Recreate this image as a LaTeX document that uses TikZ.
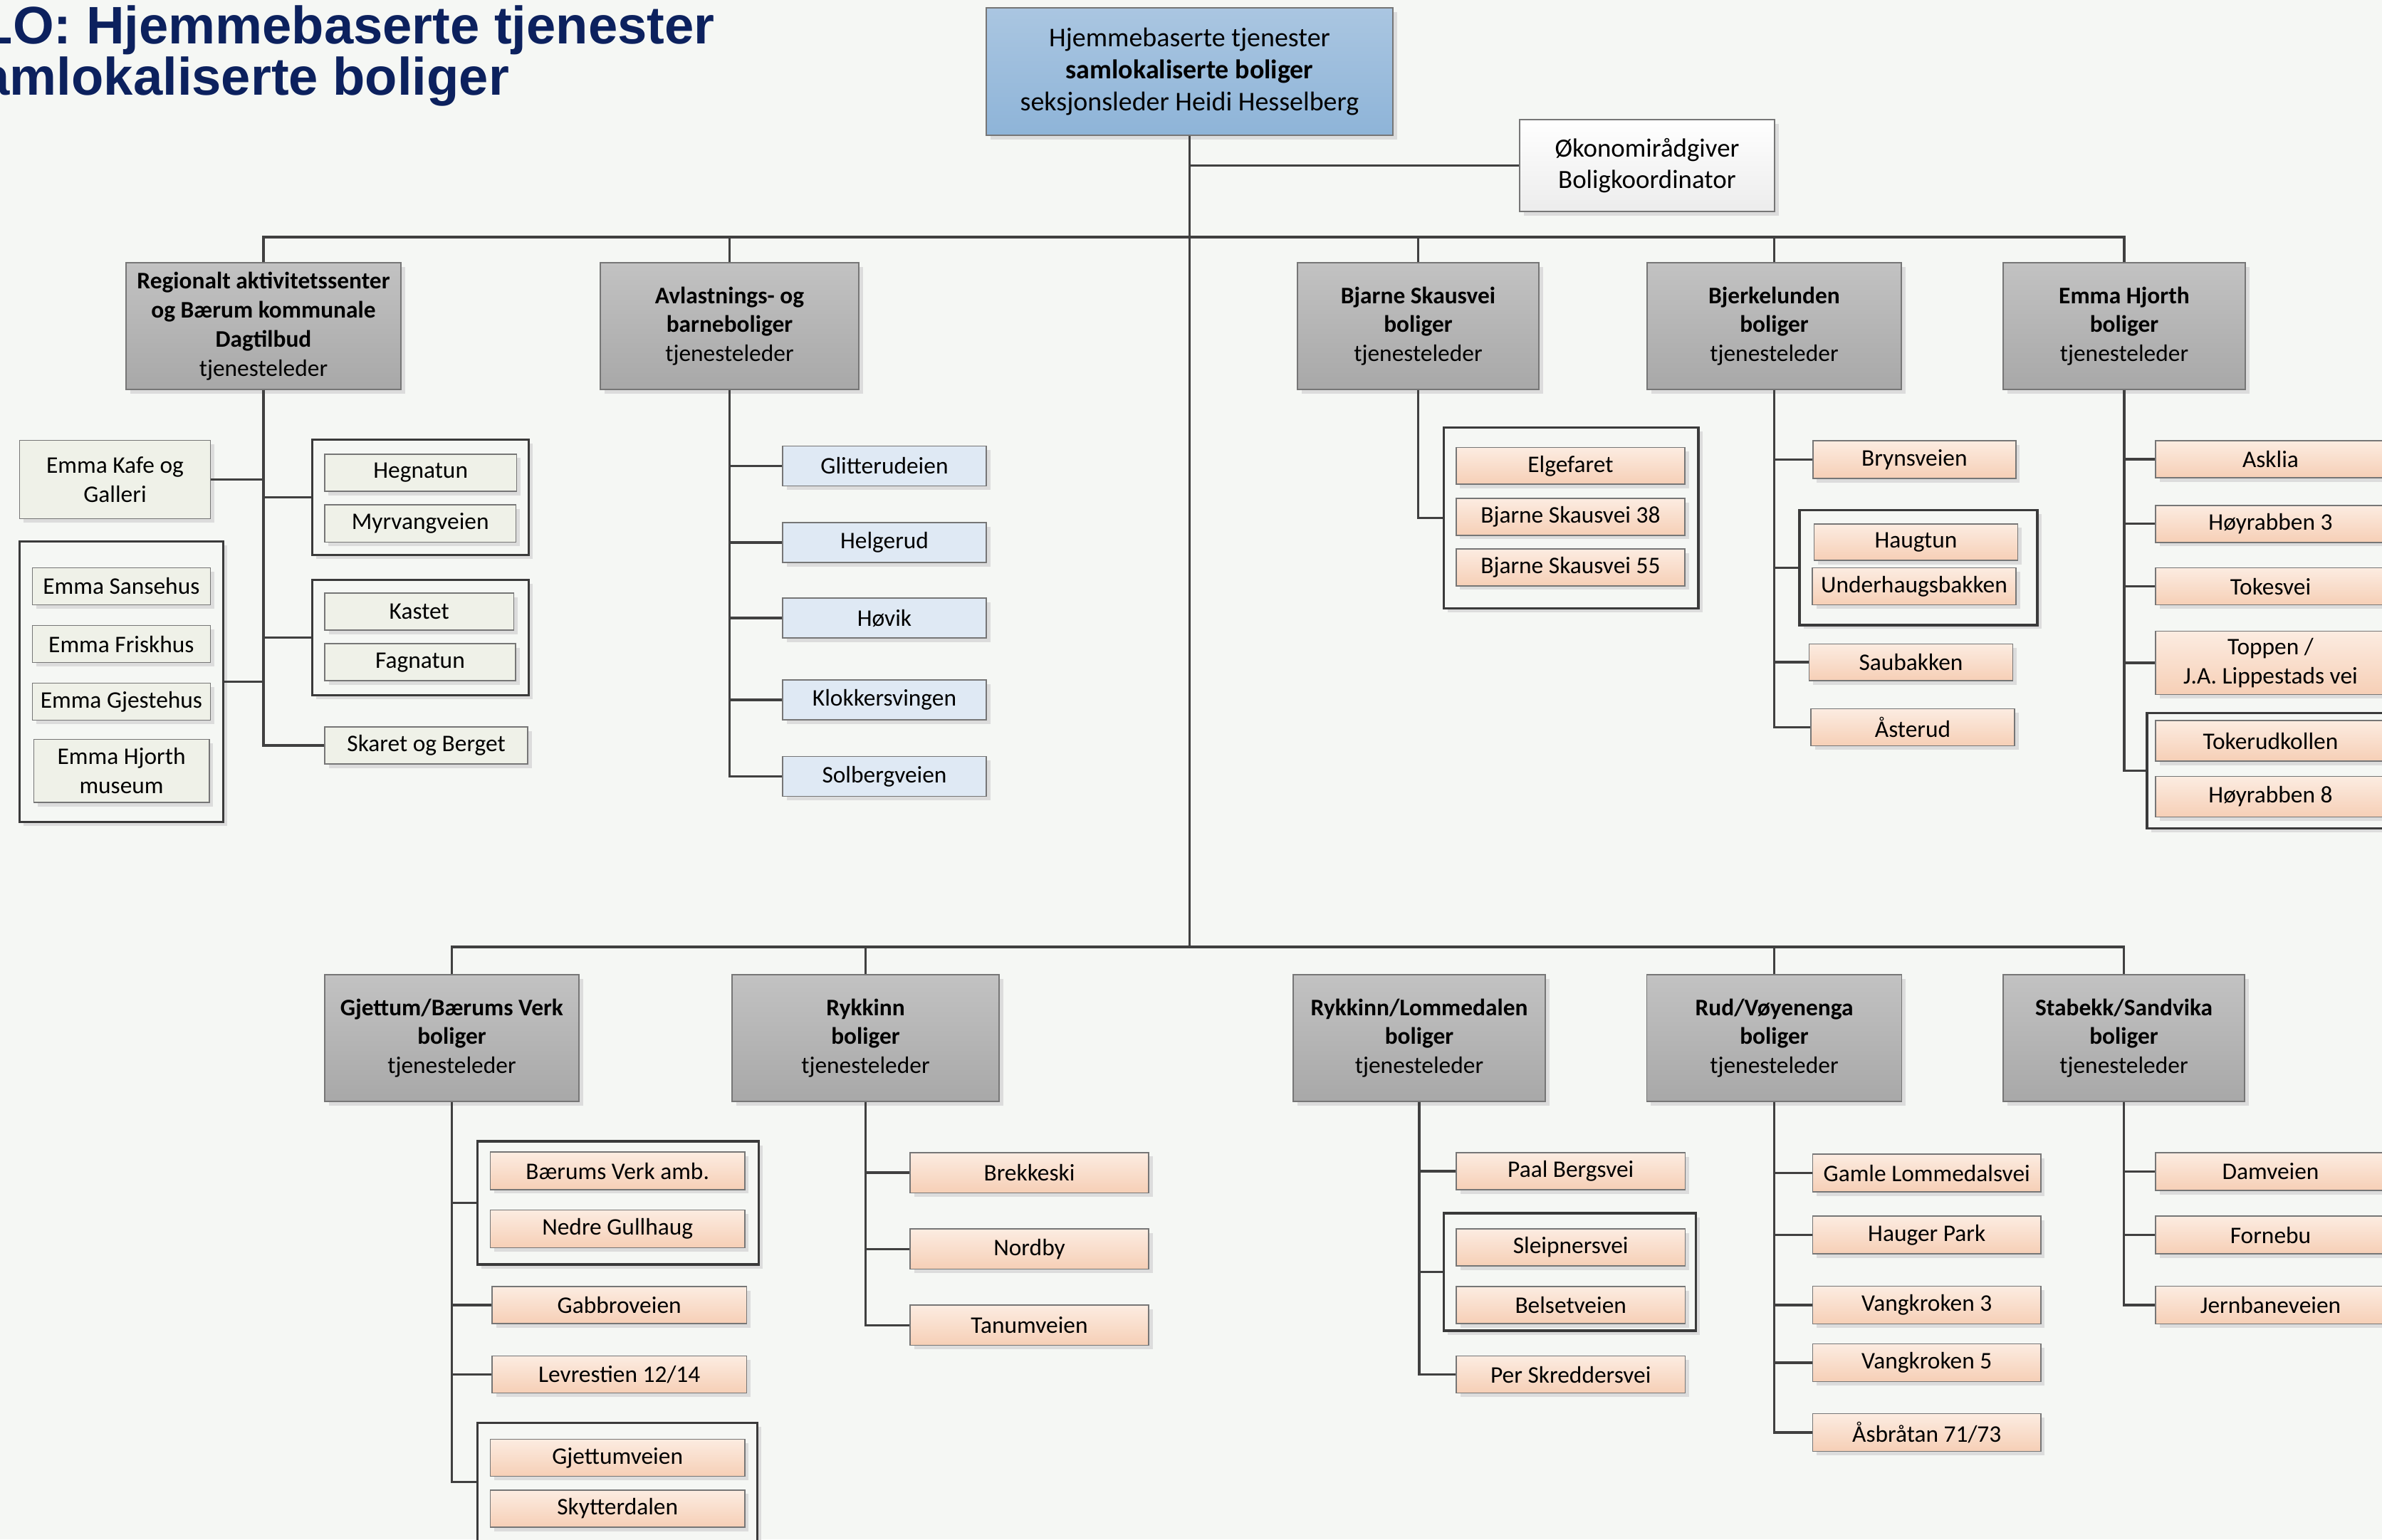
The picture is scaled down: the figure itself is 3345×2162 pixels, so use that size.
\documentclass[tikz,border=0pt]{standalone}
\usepackage{fontspec}
\setmainfont{Carlito}
\newfontfamily\titlefont{Liberation Sans}
\usetikzlibrary{shadows}
\definecolor{bg}{RGB}{245,247,244}
\definecolor{navy}{RGB}{12,33,94}
\definecolor{lineC}{RGB}{64,64,64}
\definecolor{bord}{RGB}{118,118,118}
\definecolor{grpbord}{RGB}{58,58,58}
\definecolor{shad}{RGB}{220,220,220}
\definecolor{greyT}{RGB}{194,194,194}
\definecolor{greyB}{RGB}{168,168,168}
\definecolor{blueT}{RGB}{170,198,225}
\definecolor{blueB}{RGB}{142,180,216}
\definecolor{lblue}{RGB}{223,233,244}
\definecolor{peachT}{RGB}{252,236,225}
\definecolor{peachB}{RGB}{246,207,182}
\definecolor{lgreen}{RGB}{239,241,232}
\definecolor{whiteB}{RGB}{236,236,236}
\tikzset{
  wh/.style 2 args={minimum width=#1*0.01cm, minimum height=#2*0.01cm},
  shd/.style={drop shadow={shadow xshift=0.055cm, shadow yshift=-0.055cm, fill=shad, opacity=1}},
  box/.style={rectangle, inner sep=0pt, align=center, font=\fontsize{9.5}{11.6}\selectfont, draw=bord, line width=0.45pt, shd},
  rootbox/.style={box, top color=blueT, bottom color=blueB, font=\fontsize{10.8}{12.8}\selectfont},
  okbox/.style={box, top color=white, bottom color=whiteB, font=\fontsize{10.5}{12.3}\selectfont},
  mgr/.style={box, top color=greyT, bottom color=greyB},
  leafP/.style={box, top color=peachT, bottom color=peachB},
  leafB/.style={box, fill=lblue},
  leafG/.style={box, fill=lgreen},
  grp/.style={rectangle, inner sep=0pt, draw=grpbord, line width=0.9pt, fill=bg, shd},
  conn/.style={draw=lineC, line width=1pt},
  ttl/.style={anchor=base west, inner sep=0pt, text=navy, font=\titlefont\bfseries\fontsize{21.1}{20}\selectfont}
}
\begin{document}
\begin{tikzpicture}[x=0.01cm,y=-0.01cm]
\fill[bg] (0,0) rectangle (3345,2162);
\useasboundingbox (0,0) rectangle (3345,2162);

% title
\node[ttl] (title1) at (-28,61) {LO: Hjemmebaserte tjenester};
\node[ttl] (title2) at (-28,133) {amlokaliserte boliger};

% top
\node[rootbox, wh={571}{179}] (root) at (1670.5,100.5) {Hjemmebaserte tjenester\\\textbf{samlokaliserte boliger}\\seksjonsleder Heidi Hesselberg};
\node[okbox, wh={358}{129}] (okon) at (2313,232.5) {Økonomirådgiver\\Boligkoordinator};

% upper managers
\node[mgr, wh={386}{178}] (reg) at (370,458) {\textbf{Regionalt aktivitetssenter}\\\textbf{og Bærum kommunale}\\\textbf{Dagtilbud}\\tjenesteleder};
\node[mgr, wh={363}{178}] (avl) at (1024.5,458) {\textbf{Avlastnings- og}\\\textbf{barneboliger}\\tjenesteleder};
\node[mgr, wh={339}{178}] (bja) at (1991.5,458) {\textbf{Bjarne Skausvei}\\\textbf{boliger}\\tjenesteleder};
\node[mgr, wh={357}{178}] (bje) at (2491.5,458) {\textbf{Bjerkelunden}\\\textbf{boliger}\\tjenesteleder};
\node[mgr, wh={340}{178}] (emh) at (2983,458) {\textbf{Emma Hjorth}\\\textbf{boliger}\\tjenesteleder};

% lower managers
\node[mgr, wh={357}{178}] (gje) at (634.5,1458) {\textbf{Gjettum/Bærums Verk}\\\textbf{boliger}\\tjenesteleder};
\node[mgr, wh={375}{178}] (ryk) at (1215.5,1458) {\textbf{Rykkinn}\\\textbf{boliger}\\tjenesteleder};
\node[mgr, wh={354}{178}] (ryl) at (1993,1458) {\textbf{Rykkinn/Lommedalen}\\\textbf{boliger}\\tjenesteleder};
\node[mgr, wh={358}{178}] (rud) at (2491.5,1458) {\textbf{Rud/Vøyenenga}\\\textbf{boliger}\\tjenesteleder};
\node[mgr, wh={339}{178}] (sta) at (2982.5,1458) {\textbf{Stabekk/Sandvika}\\\textbf{boliger}\\tjenesteleder};

% Regionalt leaves
\node[leafG, wh={268}{110}] (kafe) at (161.5,673.4) {Emma Kafe og\\Galleri};
\node[grp, wh={303.5}{162}] (grpA) at (590.5,698.7) {};
\node[leafG, wh={269.5}{52.4}] (hegn) at (590.7,664) {Hegnatun};
\node[leafG, wh={268.5}{52.4}] (myrv) at (590.2,735.2) {Myrvangveien};
\node[grp, wh={286}{393.7}] (grpB) at (170.7,957.5) {};
\node[leafG, wh={250}{52}] (sans) at (170.4,823.4) {Emma Sansehus};
\node[leafG, wh={250}{52}] (frisk) at (170.4,904.5) {Emma Friskhus};
\node[leafG, wh={250}{52}] (gjest) at (170.4,985.5) {Emma Gjestehus};
\node[leafG, wh={246.5}{88.7}] (museum) at (170.6,1082.8) {Emma Hjorth\\museum};
\node[grp, wh={303.5}{161.7}] (grpC) at (590.5,895.4) {};
\node[leafG, wh={265.4}{52}] (kast) at (588.7,859) {Kastet};
\node[leafG, wh={268}{52}] (fagn) at (590,930.2) {Fagnatun};
\node[leafG, wh={285}{52}] (skar) at (598.6,1047) {Skaret og Berget};

% Avlastnings leaves
\node[leafB, wh={286}{56}] (glit) at (1242,654.5) {Glitterudeien};
\node[leafB, wh={286}{56}] (helg) at (1242,762) {Helgerud};
\node[leafB, wh={286}{56}] (hovik) at (1242,868) {Høvik};
\node[leafB, wh={286}{56}] (klok) at (1242,983) {Klokkersvingen};
\node[leafB, wh={286}{56}] (solb) at (1242,1090.6) {Solbergveien};

% Bjarne Skausvei leaves
\node[grp, wh={357.5}{254.3}] (grpD) at (2206.3,727.5) {};
\node[leafP, wh={321.3}{51.6}] (elge) at (2205.4,654.4) {Elgefaret};
\node[leafP, wh={321.3}{51.6}] (bs38) at (2205.4,726) {Bjarne Skausvei 38};
\node[leafP, wh={321.3}{51.6}] (bs55) at (2205.4,797) {Bjarne Skausvei 55};

% Bjerkelunden leaves
\node[leafP, wh={285}{53}] (bryn) at (2688.4,645.5) {Brynsveien};
\node[grp, wh={334}{161.3}] (grpE) at (2694,797.3) {};
\node[leafP, wh={286}{51.3}] (haug) at (2690.5,761.6) {Haugtun};
\node[leafP, wh={286}{51.7}] (underh) at (2688,823.5) {Underhaugsbakken};
\node[leafP, wh={286}{51.6}] (saub) at (2683.5,930.2) {Saubakken};
\node[leafP, wh={286}{51.7}] (aste) at (2686,1021.5) {Åsterud};

% Emma Hjorth leaves
\node[leafP, wh={323}{52}] (askl) at (3188.5,645) {Asklia};
\node[leafP, wh={323}{52}] (hoy3) at (3188.5,735.7) {Høyrabben 3};
\node[leafP, wh={323}{52}] (toke) at (3188.5,823.5) {Tokesvei};
\node[leafP, wh={323}{89}] (topp) at (3188.5,931) {Toppen /\\J.A. Lippestads vei};
\node[grp, wh={350}{162.4}] (grpF) at (3190,1082.6) {};
\node[leafP, wh={323}{57}] (tokr) at (3188.5,1040.7) {Tokerudkollen};
\node[leafP, wh={323}{57}] (hoy8) at (3188.5,1119) {Høyrabben 8};

% Gjettum leaves
\node[grp, wh={395.4}{173}] (grpG) at (868,1689.5) {};
\node[leafP, wh={357.3}{52.7}] (baer) at (867.2,1644.6) {Bærums Verk amb.};
\node[leafP, wh={357.3}{52.7}] (nedr) at (867.2,1726) {Nedre Gullhaug};
\node[leafP, wh={357.3}{52}] (gabb) at (869.7,1833) {Gabbroveien};
\node[leafP, wh={357.3}{52}] (levr) at (869.7,1930.6) {Levrestien 12/14};
\node[grp, wh={393}{167}] (grpH) at (866.8,2081.6) {};
\node[leafP, wh={357.3}{52.2}] (gjet) at (867.2,2047.4) {Gjettumveien};
\node[leafP, wh={357.3}{52.2}] (skyt) at (867.2,2119) {Skytterdalen};

% Rykkinn leaves
\node[leafP, wh={335}{56.5}] (brek) at (1445.5,1647.2) {Brekkeski};
\node[leafP, wh={335}{56.5}] (nord) at (1445.5,1754.4) {Nordby};
\node[leafP, wh={335}{56.5}] (tanu) at (1445.5,1861.3) {Tanumveien};

% Rykkinn/Lommedalen leaves
\node[leafP, wh={321.4}{52}] (paal) at (2205.7,1645) {Paal Bergsvei};
\node[grp, wh={354}{165}] (grpI) at (2204.7,1786.5) {};
\node[leafP, wh={321.4}{52}] (slei) at (2205.7,1752) {Sleipnersvei};
\node[leafP, wh={321.4}{52}] (bels) at (2205.7,1833) {Belsetveien};
\node[leafP, wh={321.4}{52}] (pers) at (2205.7,1930.6) {Per Skreddersvei};

% Rud/Voyenenga leaves
\node[leafP, wh={320.5}{53}] (gaml) at (2705.7,1647.5) {Gamle Lommedalsvei};
\node[leafP, wh={320.5}{53}] (haup) at (2705.7,1734.6) {Hauger Park};
\node[leafP, wh={320.5}{53}] (vk3) at (2705.7,1833) {Vangkroken 3};
\node[leafP, wh={320.5}{53}] (vk5) at (2705.7,1914) {Vangkroken 5};
\node[leafP, wh={320.5}{53}] (asbr) at (2705.7,2012) {Åsbråtan 71/73};

% Stabekk leaves
\node[leafP, wh={323}{53}] (damv) at (3188.5,1645.5) {Damveien};
\node[leafP, wh={323}{53}] (forn) at (3188.5,1734.6) {Fornebu};
\node[leafP, wh={323}{53}] (jern) at (3188.5,1833) {Jernbaneveien};

% connectors
\coordinate (busU) at (1670.5,333);
\coordinate (busL) at (1670.5,1330);
\draw[conn] (root.south) -- (root.south |- busL);
\draw[conn] (root.south |- okon.west) -- (okon.west);
\draw[conn] (reg.north) |- (busU) -| (emh.north);
\foreach \n in {avl,bja,bje} \draw[conn] (\n.north) -- (\n.north |- busU);
\draw[conn] (gje.north) |- (busL) -| (sta.north);
\foreach \n in {ryk,rud} \draw[conn] (\n.north) -- (\n.north |- busL);

\foreach \n in {kafe,grpB} \draw[conn] (reg.south) |- (\n.east);
\foreach \n in {grpA,grpC,skar} \draw[conn] (reg.south) |- (\n.west);
\foreach \n in {glit,helg,hovik,klok,solb} \draw[conn] (avl.south) |- (\n.west);
\draw[conn] (bja.south) |- (grpD.west);
\foreach \n in {bryn,grpE,saub,aste} \draw[conn] (bje.south) |- (\n.west);
\foreach \n in {askl,hoy3,toke,topp,grpF} \draw[conn] (emh.south) |- (\n.west);
\foreach \n in {grpG,gabb,levr,grpH} \draw[conn] (gje.south) |- (\n.west);
\foreach \n in {brek,nord,tanu} \draw[conn] (ryk.south) |- (\n.west);
\foreach \n in {paal,grpI,pers} \draw[conn] (ryl.south) |- (\n.west);
\foreach \n in {gaml,haup,vk3,vk5,asbr} \draw[conn] (rud.south) |- (\n.west);
\foreach \n in {damv,forn,jern} \draw[conn] (sta.south) |- (\n.west);
\end{tikzpicture}
\end{document}
